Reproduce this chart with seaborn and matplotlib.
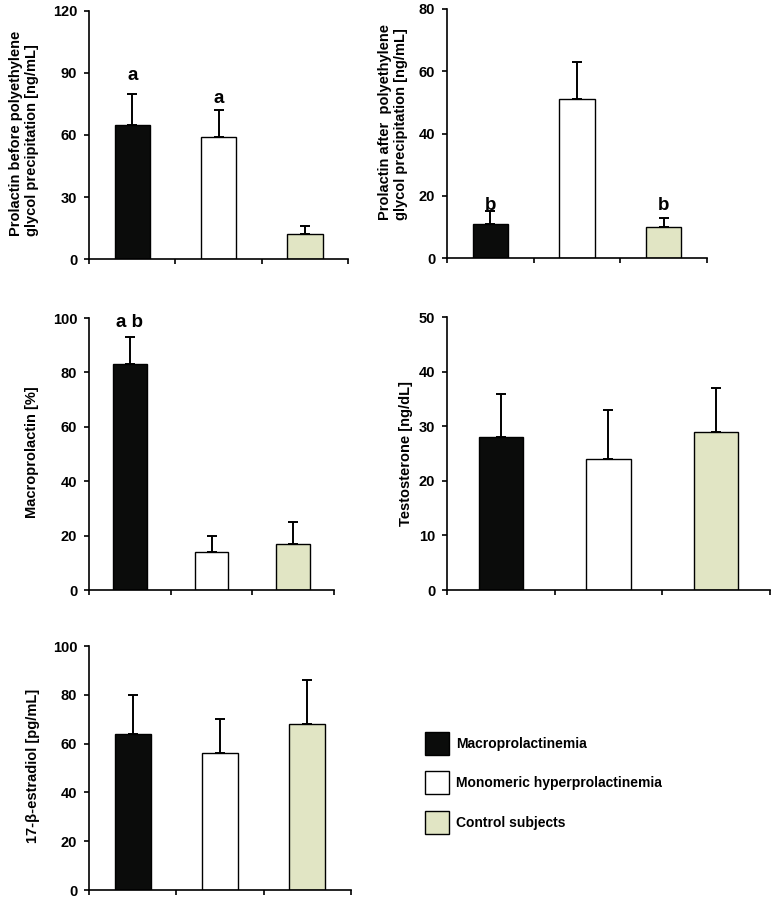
import matplotlib
matplotlib.use("Agg")
import matplotlib.pyplot as plt
from matplotlib.patches import Patch
import seaborn as sns

groups = ["Macroprolactinemia", "Monomeric hyperprolactinemia", "Control subjects"]
colors = ["#0b0c0b", "#ffffff", "#e1e5c4"]

prl_before = [65, 59, 12]
prl_before_err = [15, 13, 4]
prl_after = [11, 51, 10]
prl_after_err = [4, 12, 3]
macro = [83, 14, 17]
macro_err = [10, 6, 8]
testo = [28, 24, 29]
testo_err = [8, 9, 8]
estra = [64, 56, 68]
estra_err = [16, 14, 18]

sns.set_style("ticks")
plt.rcParams["font.family"] = ["Liberation Sans", "DejaVu Sans"]
plt.rcParams["font.weight"] = "bold"
plt.rcParams["text.color"] = "black"
plt.rcParams["axes.labelcolor"] = "black"
plt.rcParams["xtick.color"] = "black"
plt.rcParams["ytick.color"] = "black"
plt.rcParams["axes.edgecolor"] = "black"

fig = plt.figure(figsize=(7.79, 9.0), dpi=100)

panels = [
    ([0.1143, 0.7122, 0.3325, 0.2756], prl_before, prl_before_err, 120, [0, 30, 60, 90, 120],
     "Prolactin before polyethylene\nglycol precipitation [ng/mL]", (-0.193, 0.508)),
    ([0.5738, 0.7133, 0.3338, 0.2767], prl_after, prl_after_err, 80, [0, 20, 40, 60, 80],
     "Prolactin after  polyethylene\nglycol precipitation [ng/mL]", (-0.15, 0.546)),
    ([0.1143, 0.3444, 0.3145, 0.3022], macro, macro_err, 100, [0, 20, 40, 60, 80, 100],
     "Macroprolactin [%]", (-0.204, 0.507)),
    ([0.5738, 0.3444, 0.4146, 0.3033], testo, testo_err, 50, [0, 10, 20, 30, 40, 50],
     "Testosterone [ng/dL]", (-0.105, 0.50)),
    ([0.1143, 0.0111, 0.3363, 0.2711], estra, estra_err, 100, [0, 20, 40, 60, 80, 100],
     "17-β-estradiol [pg/mL]", (-0.187, 0.508)),
]

axes = []
for rect, vals, errs, ymax, yt, lab, lxy in panels:
    ax = fig.add_axes(rect)
    sns.barplot(x=groups, y=vals, hue=groups, palette=dict(zip(groups, colors)),
                width=0.41, edgecolor="black", linewidth=1.0, ax=ax, legend=False,
                saturation=1)
    ax.errorbar(groups, vals, yerr=[[0] * 3, errs], fmt="none", ecolor="black",
                elinewidth=1.4, capsize=3.5, capthick=1.4)
    ax.set_xlim(-0.5, 2.5)
    ax.set_ylim(0, ymax)
    ax.set_yticks(yt)
    ax.set_xticks([-0.5, 0.5, 1.5, 2.5])
    ax.set_xticklabels([])
    ax.set_xlabel("")
    for s in ["top", "right"]:
        ax.spines[s].set_visible(False)
    for s in ["left", "bottom"]:
        ax.spines[s].set_linewidth(1.2)
        ax.spines[s].set_color("black")
    ax.tick_params(axis="both", direction="out", length=3.5, width=1.2, color="black",
                   labelcolor="black")
    ax.tick_params(axis="y", labelsize=10.5, pad=5)
    for t in ax.get_yticklabels():
        t.set_fontweight("bold")
    ax.set_ylabel(lab, fontsize=10.5, fontweight="bold", multialignment="left", color="black")
    ax.yaxis.set_label_coords(*lxy)
    axes.append(ax)

# significance letters
axes[0].text(0, 86.6, "a", ha="center", va="baseline", fontsize=13.5, fontweight="bold")
axes[0].text(1, 75.5, "a", ha="center", va="baseline", fontsize=13.5, fontweight="bold")
axes[1].text(0, 15.4, "b", ha="center", va="baseline", fontsize=13.5, fontweight="bold")
axes[1].text(2, 15.4, "b", ha="center", va="baseline", fontsize=13.5, fontweight="bold")
axes[2].text(0, 96.7, "a b", ha="center", va="baseline", fontsize=13.5, fontweight="bold")

handles = [Patch(facecolor=c, edgecolor="black", linewidth=1.0) for c in colors]
leg = fig.legend(handles, groups, loc="upper left", bbox_to_anchor=(0.5366, 0.1945),
                 frameon=False, borderpad=0, handlelength=1.7, handleheight=2.17,
                 handletextpad=0.55, labelspacing=1.19, prop={"size": 10, "weight": "bold"})
for t in leg.get_texts():
    t.set_color("black")

fig.savefig("out.png", dpi=100)
